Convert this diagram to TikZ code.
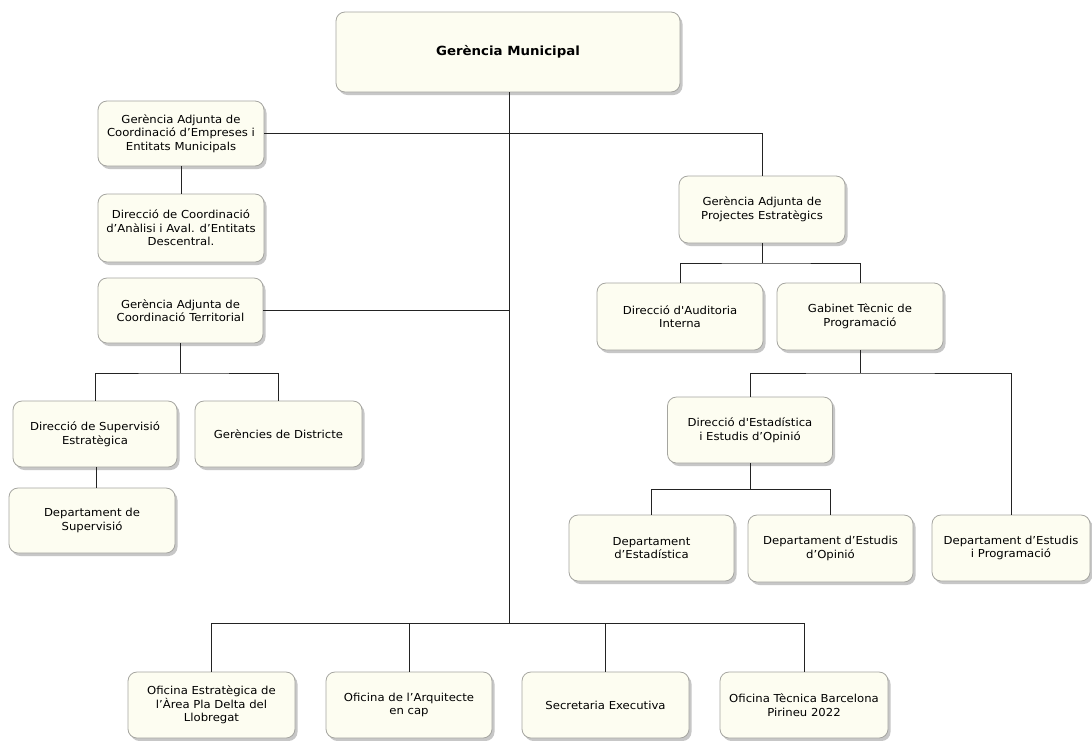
\documentclass[tikz,border=0pt]{standalone}
\usepackage{fontspec}
\setmainfont{DejaVu Sans}[Ligatures=TeXOff, FakeStretch=1.06]
\usetikzlibrary{shadows}
\definecolor{boxfill}{RGB}{253,253,241}
\definecolor{boxline}{RGB}{165,165,160}
\definecolor{conn}{RGB}{35,35,35}
\begin{document}
\begin{tikzpicture}[x=1pt,y=-1pt,
  box/.style={draw=boxline, line width=0.8pt, fill=boxfill, rounded corners=9pt,
    minimum width=166pt, minimum height=66pt, align=center, inner sep=2pt,
    font=\fontsize{11}{13.6}\selectfont,
    drop shadow={shadow xshift=2.5pt, shadow yshift=-3pt, fill=black!40, opacity=0.55}},
  conn/.style={draw=conn, line width=1pt}]
\useasboundingbox (0,0) rectangle (1092,740);
\fill[white] (0,0) rectangle (1092,740);

\node[box, minimum width=344pt, minimum height=80pt, font=\fontsize{12.6}{15}\selectfont\bfseries] (top) at (508,52) {Gerència Municipal};

\node[box, minimum height=65pt] (A) at (181,133.5) {Gerència Adjunta de\\Coordinació d’Empreses i\\Entitats Municipals};
\node[box, minimum height=68pt] (B) at (181,228) {Direcció de Coordinació\\d’Anàlisi i Aval. d’Entitats\\Descentral.};
\node[box, minimum width=165pt, minimum height=65pt] (C) at (180.5,310.5) {Gerència Adjunta de\\Coordinació Territorial};
\node[box, minimum width=164pt] (E) at (95,434) {Direcció de Supervisió\\Estratègica};
\node[box, minimum width=167pt] (F) at (278.5,434) {Gerències de Districte};
\node[box, minimum height=65pt] (G) at (92,520.5) {Departament de\\Supervisió};

\node[box, minimum height=67pt] (D) at (762,209.5) {Gerència Adjunta de\\Projectes Estratègics};
\node[box, minimum height=67pt] (H) at (680,316.5) {Direcció d'Auditoria\\Interna};
\node[box, minimum height=67pt] (I) at (860,316.5) {Gabinet Tècnic de\\Programació};
\node[box, minimum width=165pt] (J) at (750,430) {Direcció d'Estadística\\i Estudis d’Opinió};
\node[box, minimum width=165pt] (K) at (651.5,548) {Departament\\d’Estadística};
\node[box, minimum width=165pt, minimum height=67pt] (L) at (830.5,548.5) {Departament d’Estudis\\d’Opinió};
\node[box, minimum width=158pt] (M) at (1011,548) {Departament d’Estudis\\i Programació};

\node[box, minimum width=167pt] (N) at (211.5,705) {Oficina Estratègica de\\l’Àrea Pla Delta del\\Llobregat};
\node[box] (O) at (409,705) {Oficina de l’Arquitecte\\en cap};
\node[box, minimum width=167pt] (P) at (605.5,705) {Secretaria Executiva};
\node[box, minimum width=168pt] (Q) at (804,705) {Oficina Tècnica Barcelona\\Pirineu 2022};

% connectors
\coordinate (trunkEnd) at (509,623);
\draw[conn] (top.south -| trunkEnd) -- (trunkEnd);
\draw[conn] (A.east) -- (A.east -| D.north) -- (D.north);
\draw[conn] (A.south) -- (B.north);
\draw[conn] (C.east) -- (C.east -| trunkEnd);
\draw[conn] (C.south) -- (C.south |- 0,373) coordinate (c1);
\draw[conn] (E.north) |- (c1) -| (F.north);
\draw[conn] (E.south -| G.north) ++(4,0) coordinate (g1) -- (g1 |- G.north);

\draw[conn] (D.south) -- (D.south |- 0,263) coordinate (d1);
\draw[conn] (H.north) |- (d1) -| (I.north);
\draw[conn] (I.south) -- (I.south |- 0,373) coordinate (i1);
\draw[conn] (J.north) |- (i1) -| (M.north);
\draw[conn] (J.south) -- (J.south |- 0,489) coordinate (j1);
\draw[conn] (K.north) |- (j1) -| (L.north);

\draw[conn] (N.north) |- (trunkEnd) -| (Q.north);
\draw[conn] (O.north) -- (O.north |- trunkEnd);
\draw[conn] (P.north) -- (P.north |- trunkEnd);
\end{tikzpicture}
\end{document}
